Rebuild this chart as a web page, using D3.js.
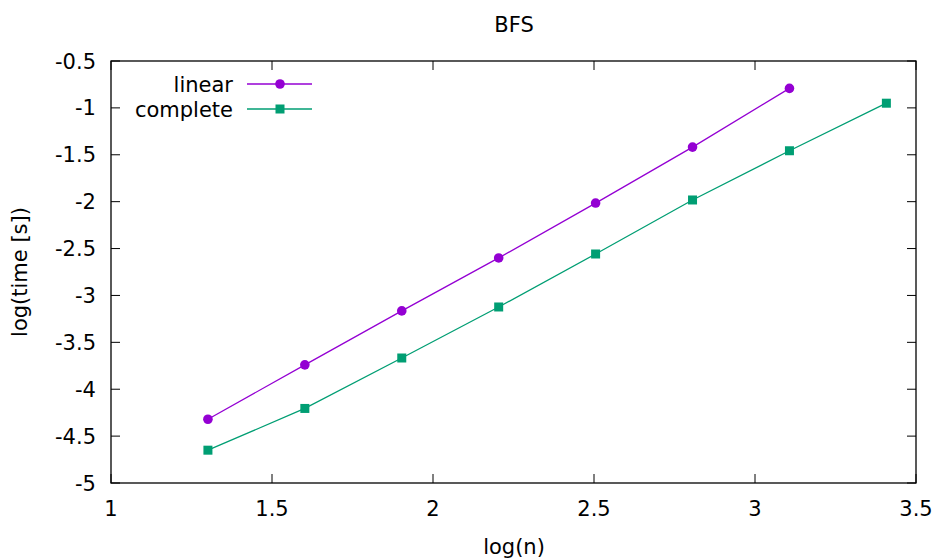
<!DOCTYPE html>
<html><head><meta charset="utf-8">
<script src="https://cdn.jsdelivr.net/npm/d3@7"></script>
<style>body{margin:0;background:#fff}svg{display:block}text{font-family:"DejaVu Sans",sans-serif;fill:#000}</style>
</head><body><svg id="c" width="938" height="558"></svg>
<script>
const xs = [1.301, 1.602, 1.903, 2.204, 2.505, 2.806, 3.107, 3.408];
const linearY = [-4.32, -3.74, -3.165, -2.60, -2.015, -1.418, -0.792];
const completeY = [-4.65, -4.205, -3.667, -3.123, -2.558, -1.982, -1.457, -0.95];
const xTicks = [1, 1.5, 2, 2.5, 3, 3.5];
const yTicks = [-5, -4.5, -4, -3.5, -3, -2.5, -2, -1.5, -1, -0.5];
const seriesNames = ["linear", "complete"];
const colors = ["#9400d3", "#009e73"];

const FS = 21;
const svg = d3.select("#c");
const L = 111, R = 916, T = 61, B = 483;
const x = d3.scaleLinear().domain([1, 3.5]).range([L, R]);
const y = d3.scaleLinear().domain([-5, -0.5]).range([B, T]);
const fmt = d => String(d);

const g = svg.append("g");
const tl = 9;
xTicks.forEach(t => {
  g.append("line").attr("x1", x(t)).attr("x2", x(t)).attr("y1", B).attr("y2", B - tl).attr("stroke", "#000");
  g.append("line").attr("x1", x(t)).attr("x2", x(t)).attr("y1", T).attr("y2", T + tl).attr("stroke", "#000");
  g.append("text").attr("x", x(t)).attr("y", 516).attr("text-anchor", "middle").attr("font-size", FS).text(fmt(t));
});
yTicks.forEach(t => {
  g.append("line").attr("x1", L).attr("x2", L + tl).attr("y1", y(t)).attr("y2", y(t)).attr("stroke", "#000");
  g.append("line").attr("x1", R).attr("x2", R - tl).attr("y1", y(t)).attr("y2", y(t)).attr("stroke", "#000");
  g.append("text").attr("x", 96).attr("y", y(t) + 7.5).attr("text-anchor", "end").attr("font-size", FS).text(fmt(t));
});
g.append("rect").attr("x", L).attr("y", T).attr("width", R - L).attr("height", B - T)
  .attr("fill", "none").attr("stroke", "#000").attr("stroke-width", 1.3);

const line = d3.line().x(d => x(d[0])).y(d => y(d[1]));
const data = [linearY.map((v, i) => [xs[i], v]), completeY.map((v, i) => [xs[i], v])];
data.forEach((pts, si) => {
  svg.append("path").attr("d", line(pts)).attr("fill", "none").attr("stroke", colors[si]).attr("stroke-width", 1.3);
  pts.forEach(p => {
    if (si === 0) svg.append("circle").attr("cx", x(p[0])).attr("cy", y(p[1])).attr("r", 4.8).attr("fill", colors[si]);
    else svg.append("rect").attr("x", x(p[0]) - 4.5).attr("y", y(p[1]) - 4.5).attr("width", 9).attr("height", 9).attr("fill", colors[si]);
  });
});

seriesNames.forEach((n, i) => {
  const ly = 84 + i * 25;
  svg.append("text").attr("x", 233).attr("y", ly + 7.5).attr("text-anchor", "end").attr("font-size", FS).text(n);
  svg.append("line").attr("x1", 247).attr("x2", 312).attr("y1", ly).attr("y2", ly).attr("stroke", colors[i]).attr("stroke-width", 1.3);
  if (i === 0) svg.append("circle").attr("cx", 280).attr("cy", ly).attr("r", 4.8).attr("fill", colors[i]);
  else svg.append("rect").attr("x", 275.5).attr("y", ly - 4.5).attr("width", 9).attr("height", 9).attr("fill", colors[i]);
});

svg.append("text").attr("x", 514).attr("y", 32).attr("text-anchor", "middle").attr("font-size", FS).text("BFS");
svg.append("text").attr("x", 514).attr("y", 554).attr("text-anchor", "middle").attr("font-size", FS).text("log(n)");
svg.append("text").attr("transform", "translate(27,272) rotate(-90)").attr("text-anchor", "middle").attr("font-size", FS).text("log(time [s])");
</script></body></html>
